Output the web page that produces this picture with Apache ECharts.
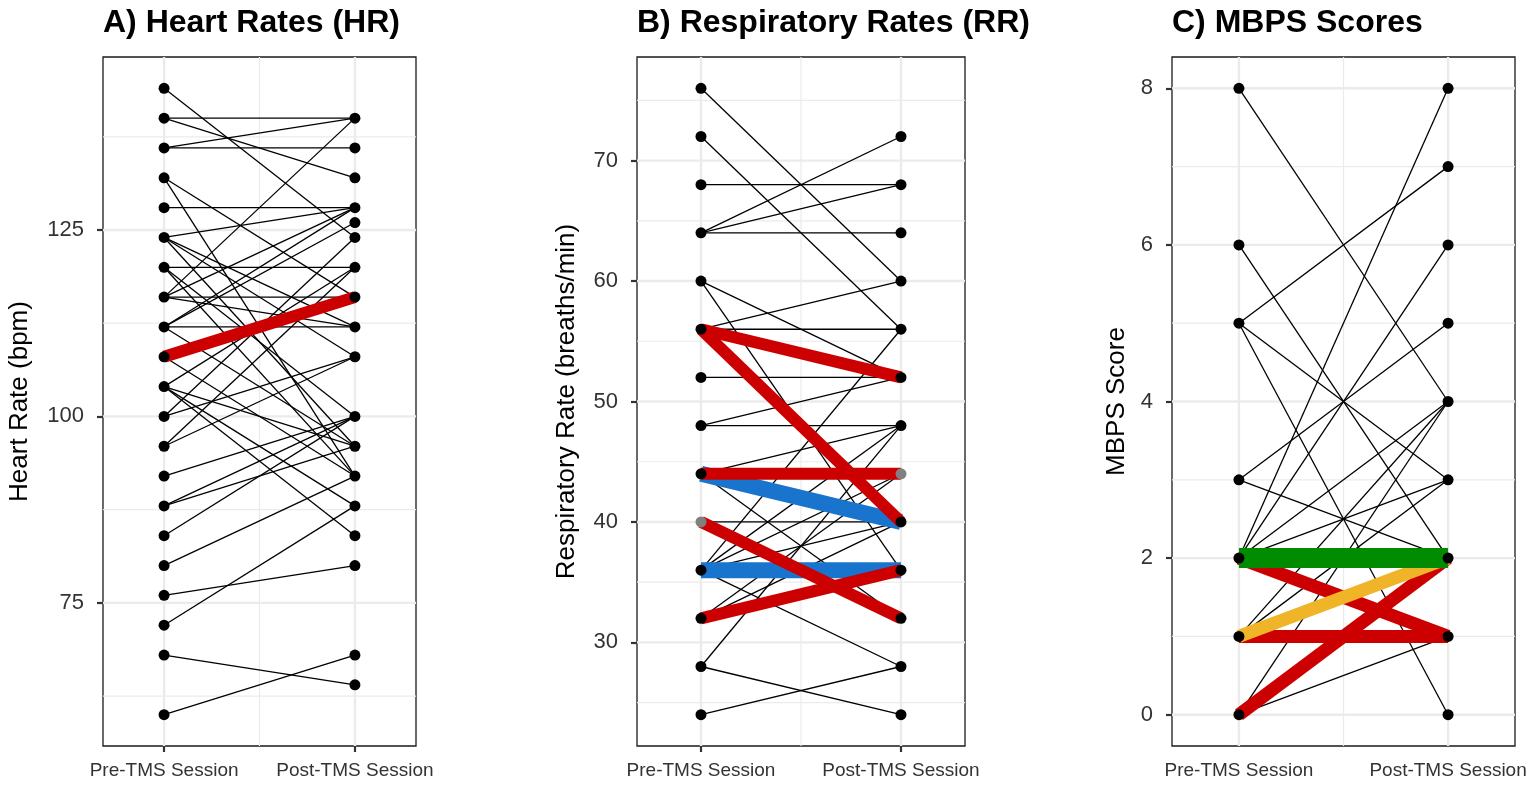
<!DOCTYPE html>
<html>
<head>
<meta charset="utf-8">
<script src="https://cdn.jsdelivr.net/npm/echarts@6/dist/echarts.min.js"></script>
<style>html,body{margin:0;padding:0;background:#fff;}#chart{width:1535px;height:785px;}</style>
</head>
<body>
<div id="chart"></div>
<script>
// ---------- DATA ----------
const categories = ['Pre-TMS Session', 'Post-TMS Session'];

// Panel A: Heart rates (each index = one subject)
const hrPre  = [144,140,140,136,136,132,132,128,124,124,124,124,120,120,120,116,116,116,116,112,112,112,112,108,104,104,104,104,100,100,96,96,92,88,88,84,80,76,72,68,60];
const hrPost = [124,140,132,140,136,116,92,128,128,112,108,96,120,100,92,140,116,112,128,128,126,112,96,92,120,96,84,88,124,108,120,108,100,100,96,100,92,80,88,64,68];
const hrRedPre  = [108];
const hrRedPost = [116];
const hrTicks = [75, 100, 125];

// Panel B: Respiratory rates
const rrPre  = [76,72,68,64,64,64,60,60,56,56,52,48,48,44,44,40,36,36,36,36,36,32,32,28,28,24];
const rrPost = [60,56,68,72,68,64,52,36,60,56,52,52,48,48,32,40,44,48,40,28,56,40,44,48,24,28];
const rrRedPre   = [56,56,44,40,32];
const rrRedPost  = [52,40,44,32,36];
const rrBluePre  = [44,36];
const rrBluePost = [40,36];
const rrGreyPre  = [40];
const rrGreyPost = [44];
const rrTicks = [30, 40, 50, 60, 70];

// Panel C: MBPS scores
const mbpsPre  = [8,6,5,5,5,3,3,2,2,2,2,1,1,0,0];
const mbpsPost = [4,2,7,3,0,5,2,8,6,4,3,4,3,1,4];
const mbpsRedPre     = [2,1,0];
const mbpsRedPost    = [1,1,2];
const mbpsYellowPre  = [1];
const mbpsYellowPost = [2];
const mbpsGreenPre   = [2];
const mbpsGreenPost  = [2];
const mbpsTicks = [0, 2, 4, 6, 8];

// ---------- CHART ----------
const FONT = "'Liberation Sans', Arial, sans-serif";
const XMIN = 0.68, XMAX = 2.32;

const panels = [
  {title:'A) Heart Rates (HR)', name:'Heart Rate (bpm)', left:103, width:313, ymin:55.8, ymax:148.2, ticks:hrTicks, step:25, nameGap:70},
  {title:'B) Respiratory Rates (RR)', name:'Respiratory Rate (breaths/min)', left:637, width:328, ymin:21.4, ymax:78.6, ticks:rrTicks, step:10, nameGap:57},
  {title:'C) MBPS Scores', name:'MBPS Score', left:1172, width:343, ymin:-0.4, ymax:8.4, ticks:mbpsTicks, step:2, nameGap:42}
];

const grids = [], xAxes = [], yAxes = [], titles = [], series = [];

function pairSeries(gi, pre, post, color, width, z) {
  return {
    type:'custom', xAxisIndex:gi, yAxisIndex:gi, z:z, silent:true,
    data: pre.map((p, i) => [1, p, 2, post[i]]),
    encode:{x:[0,2], y:[1,3]},
    renderItem:(params, api) => {
      const a = api.coord([api.value(0), api.value(1)]);
      const b = api.coord([api.value(2), api.value(3)]);
      return {type:'line', shape:{x1:a[0], y1:a[1], x2:b[0], y2:b[1]},
              style:{stroke:color, lineWidth:width, lineCap:'butt'}};
    }
  };
}

function gridSeries(gi, p) {
  const items = [];
  p.ticks.forEach(v => items.push([XMIN, v, XMAX, v, 1]));
  for (let v = p.ticks[0] - p.step / 2; v <= p.ymax; v += p.step) {
    if (v >= p.ymin) items.push([XMIN, v, XMAX, v, 0]);
  }
  [1, 2].forEach(x => items.push([x, p.ymin, x, p.ymax, 1]));
  items.push([1.5, p.ymin, 1.5, p.ymax, 0]);
  return {
    type:'custom', xAxisIndex:gi, yAxisIndex:gi, z:1, silent:true,
    data: items,
    encode:{x:[0,2], y:[1,3]},
    renderItem:(params, api) => {
      const a = api.coord([api.value(0), api.value(1)]);
      const b = api.coord([api.value(2), api.value(3)]);
      const major = api.value(4) === 1;
      return {type:'line', shape:{x1:a[0], y1:a[1], x2:b[0], y2:b[1]},
              style:{stroke:'#EBEBEB', lineWidth: major ? 2.4 : 1.2}};
    }
  };
}

function pointSeries(gi, preLists, postLists, color, z, exclude) {
  const seen = new Set(), data = [];
  const ex = exclude || new Set();
  preLists.forEach(l => l.forEach(v => { const k = '1_' + v; if (!seen.has(k) && !ex.has(k)) { seen.add(k); data.push([1, v]); } }));
  postLists.forEach(l => l.forEach(v => { const k = '2_' + v; if (!seen.has(k) && !ex.has(k)) { seen.add(k); data.push([2, v]); } }));
  return {type:'scatter', xAxisIndex:gi, yAxisIndex:gi, z:z, silent:true, symbol:'circle', symbolSize:11,
          itemStyle:{color:color, opacity:1}, data:data};
}

panels.forEach((p, gi) => {
  grids.push({left:p.left, top:57, width:p.width, height:689, show:true, borderColor:'#1a1a1a', borderWidth:1.3, backgroundColor:'#fff'});
  titles.push({text:p.title, left:p.left, top:7, padding:0, textStyle:{fontFamily:FONT, fontSize:32, fontWeight:'bold', color:'#000'}});
  xAxes.push({
    type:'value', gridIndex:gi, min:XMIN, max:XMAX,
    axisLine:{show:false}, splitLine:{show:false},
    axisTick:{show:true, customValues:[1,2], length:6, lineStyle:{color:'#333', width:2.2}},
    axisLabel:{show:true, customValues:[1,2], margin:15, fontFamily:FONT, fontSize:19, color:'#333',
               formatter: v => categories[Math.round(v) - 1] || ''}
  });
  yAxes.push({
    type:'value', gridIndex:gi, min:p.ymin, max:p.ymax,
    name:p.name, nameLocation:'middle', nameGap:p.nameGap, nameRotate:90,
    nameTextStyle:{fontFamily:FONT, fontSize:26, color:'#000'},
    axisLine:{show:false}, splitLine:{show:false},
    axisTick:{show:true, customValues:p.ticks, length:6, lineStyle:{color:'#333', width:2.2}},
    axisLabel:{show:true, customValues:p.ticks, margin:19, fontFamily:FONT, fontSize:22, color:'#333'}
  });
  series.push(gridSeries(gi, p));
});

// Panel A
series.push(pairSeries(0, hrPre, hrPost, '#000', 1.3, 2));
series.push(pairSeries(0, hrRedPre, hrRedPost, '#CC0000', 12, 3));
series.push(pointSeries(0, [hrPre, hrRedPre], [hrPost, hrRedPost], '#000', 10));

// Panel B
series.push(pairSeries(1, rrPre, rrPost, '#000', 1.3, 2));
series.push(pairSeries(1, rrBluePre, rrBluePost, '#1874CD', 16, 3));
series.push(pairSeries(1, rrRedPre, rrRedPost, '#CC0000', 12, 4));
const rrGreyKeys = new Set([...rrGreyPre.map(v => '1_' + v), ...rrGreyPost.map(v => '2_' + v)]);
series.push(pointSeries(1, [rrPre, rrRedPre, rrBluePre], [rrPost, rrRedPost, rrBluePost], '#000', 10, rrGreyKeys));
series.push(pointSeries(1, [rrGreyPre], [rrGreyPost], '#808080', 11));

// Panel C
series.push(pairSeries(2, mbpsPre, mbpsPost, '#000', 1.3, 2));
series.push(pairSeries(2, mbpsRedPre, mbpsRedPost, '#CC0000', 13, 3));
series.push(pairSeries(2, mbpsYellowPre, mbpsYellowPost, '#F0B429', 13, 4));
series.push(pairSeries(2, mbpsGreenPre, mbpsGreenPost, '#008B00', 20, 5));
series.push(pointSeries(2, [mbpsPre, mbpsRedPre, mbpsYellowPre, mbpsGreenPre], [mbpsPost, mbpsRedPost, mbpsYellowPost, mbpsGreenPost], '#000', 10));

const chart = echarts.init(document.getElementById('chart'), null, {renderer:'canvas'});
chart.setOption({
  animation:false,
  backgroundColor:'#fff',
  title:titles, grid:grids, xAxis:xAxes, yAxis:yAxes, series:series
});
</script>
</body>
</html>
